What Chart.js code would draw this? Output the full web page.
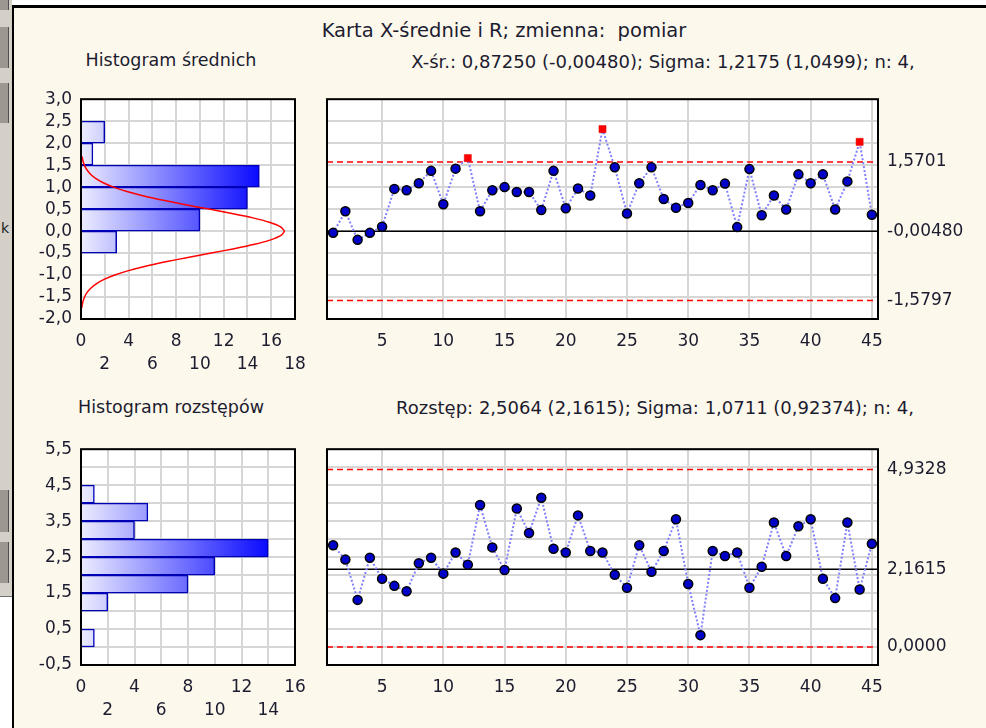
<!DOCTYPE html>
<html lang="pl">
<head>
<meta charset="utf-8">
<title>Karta X-średnie i R</title>
<script src="https://cdn.jsdelivr.net/npm/chart.js@4.4.1/dist/chart.umd.min.js"></script>
<style>
  html, body { margin: 0; padding: 0; width: 986px; height: 728px; overflow: hidden; background: #fff; font-family: "DejaVu Sans", sans-serif; }
  #side { position: absolute; left: 0; top: 0; width: 12px; height: 596px; background: #d4d0c8; border-bottom: 1px solid #707070; }
  .knob { position: absolute; left: 0; width: 8px; background: #9c9890; border-right: 1px solid #505050; }
  #panel { position: absolute; left: 12px; top: 5px; width: 990px; height: 740px; background: #fdf8ec; border-left: 2px solid #000; border-top: 3px solid #000; }
  .box { position: absolute; }
  .txt { position: absolute; white-space: nowrap; color: #1c1c30; transform: translateX(-50%); }
</style>
</head>
<body>
<div id="side">
  <div class="knob" style="top:0;height:10px"></div>
  <div class="knob" style="top:27px;height:41px"></div>
  <div class="knob" style="top:83px;height:40px"></div>
  <div class="knob" style="top:490px;height:42px"></div>
  <div class="knob" style="top:542px;height:41px"></div>
  <div style="position:absolute;left:1px;top:220px;font-size:14px;color:#222">k</div>
</div>
<div id="panel"></div>

<div class="txt" style="left:504px;top:19px;font-size:19.5px">Karta X-średnie i R; zmienna:&nbsp; pomiar</div>
<div class="txt" style="left:171px;top:50px;font-size:17.5px">Histogram średnich</div>
<div class="txt" style="left:663px;top:51px;font-size:18px">X-śr.: 0,87250 (-0,00480); Sigma: 1,2175 (1,0499); n: 4,</div>
<div class="txt" style="left:171px;top:397px;font-size:17.5px">Histogram rozstępów</div>
<div class="txt" style="left:655px;top:397px;font-size:18px">Rozstęp: 2,5064 (2,1615); Sigma: 1,0711 (0,92374); n: 4,</div>

<div class="box" style="left:0;top:80px;width:320px;height:300px"><canvas id="histMeans"></canvas></div>
<div class="box" style="left:300px;top:80px;width:686px;height:300px"><canvas id="chartMeans"></canvas></div>
<div class="box" style="left:0;top:430px;width:320px;height:298px"><canvas id="histRanges"></canvas></div>
<div class="box" style="left:300px;top:430px;width:686px;height:298px"><canvas id="chartRanges"></canvas></div>

<script>
// numer próbki 1..45
const samples = [1,2,3,4,5,6,7,8,9,10,11,12,13,14,15,16,17,18,19,20,21,22,23,24,25,26,27,28,29,30,31,32,33,34,35,36,37,38,39,40,41,42,43,44,45];

// średnie z próbek
const means = [-0.04, 0.45, -0.20, -0.04, 0.10, 0.96, 0.93, 1.09, 1.37, 0.61,
               1.42, 1.66, 0.45, 0.93, 1.00, 0.89, 0.89, 0.48, 1.37, 0.52,
               0.97, 0.81, 2.32, 1.45, 0.40, 1.09, 1.45, 0.73, 0.53, 0.64,
               1.05, 0.93, 1.08, 0.09, 1.41, 0.36, 0.81, 0.49, 1.29, 1.09,
               1.29, 0.49, 1.13, 2.03, 0.37];

// rozstępy z próbek
const ranges = [2.83, 2.43, 1.31, 2.48, 1.90, 1.70, 1.55, 2.33, 2.48, 2.04,
                2.63, 2.29, 3.95, 2.77, 2.14, 3.85, 3.17, 4.15, 2.73, 2.63,
                3.66, 2.67, 2.63, 2.01, 1.65, 2.83, 2.09, 2.67, 3.55, 1.75,
                0.33, 2.67, 2.53, 2.63, 1.65, 2.23, 3.46, 2.53, 3.36, 3.55,
                1.90, 1.36, 3.46, 1.60, 2.87];

// linie kontrolne: UCL, linia centralna, LCL
const meanLimits = [1.5701, -0.00480, -1.5797];
const meanLimitLabels = ['1,5701', '-0,00480', '-1,5797'];
const rangeLimits = [4.9328, 2.1615, 0.0];
const rangeLimitLabels = ['4,9328', '2,1615', '0,0000'];

// histogramy (środki klas, liczności)
const meanBins = [-0.25, 0.25, 0.75, 1.25, 1.75, 2.25];
const meanCounts = [3, 10, 14, 15, 1, 2];
const rangeBins = [0.25, 1.25, 1.75, 2.25, 2.75, 3.25, 3.75, 4.25];
const rangeCounts = [1, 2, 8, 10, 14, 4, 5, 1];

// krzywa normalna na histogramie średnich
const curveLevels = [-1.75, -1.7, -1.6, -1.5, -1.4, -1.3, -1.2, -1.1, -1.0, -0.9, -0.8, -0.7,
                     -0.6, -0.5, -0.4, -0.3, -0.2, -0.1, 0, 0.1, 0.2, 0.3, 0.4, 0.5,
                     0.6, 0.7, 0.8, 0.9, 1.0, 1.1, 1.2, 1.3, 1.4, 1.5, 1.6, 1.7];
const curveCounts = [0.07, 0.09, 0.17, 0.30, 0.50, 0.82, 1.28, 1.94, 2.84, 4.00, 5.43, 7.12,
                     8.99, 10.96, 12.88, 14.60, 15.96, 16.82, 17.1, 16.76, 15.85, 14.46, 12.70, 10.77,
                     8.80, 6.94, 5.28, 3.87, 2.74, 1.87, 1.23, 0.78, 0.48, 0.28, 0.16, 0.09];

// etykiety osi X kart
const sampleTicks = [5, 10, 15, 20, 25, 30, 35, 40, 45];

Chart.defaults.font.family = '"DejaVu Sans", sans-serif';
Chart.defaults.font.size = 17;
Chart.defaults.color = '#1c1c30';
Chart.defaults.animation = false;

const GRID = '#d6d6d6';
const comma = (v, d) => v.toFixed(d).replace('.', ',');

// białe tło pola wykresu + czarna ramka
const frame = {
  id: 'frame',
  beforeDraw(chart) {
    const a = chart.chartArea, ctx = chart.ctx;
    ctx.save();
    ctx.fillStyle = '#fff';
    ctx.fillRect(a.left, a.top, a.width, a.height);
    ctx.restore();
  },
  afterDatasetsDraw(chart) {
    const a = chart.chartArea, ctx = chart.ctx;
    ctx.save();
    ctx.strokeStyle = '#000';
    ctx.lineWidth = 2;
    ctx.strokeRect(a.left, a.top, a.width, a.height);
    ctx.restore();
  }
};

function barFill(c) {
  const chart = c.chart;
  if (!chart.chartArea) return '#8080ff';
  const xs = chart.scales.x;
  const max = Math.max(...c.dataset.data.map(d => d.x));
  const g = chart.ctx.createLinearGradient(xs.getPixelForValue(0), 0, xs.getPixelForValue(max), 0);
  g.addColorStop(0, '#ececff');
  g.addColorStop(1, '#0a0aff');
  return g;
}

function makeHistogram(id, bins, counts, yMin, yMax, xMax, labelFrom, labelStep, padTop, axisH, curve) {
  const datasets = [];
  if (curve) {
    datasets.push({
      type: 'line',
      indexAxis: 'y',
      data: curve.levels.map((l, i) => ({ x: curve.counts[i], y: l })),
      borderColor: '#ff0000',
      borderWidth: 1.5,
      pointRadius: 0,
      tension: 0.2,
      order: 0
    });
  }
  datasets.push({
    type: 'bar',
    indexAxis: 'y',
    data: bins.map((b, i) => ({ x: counts[i], y: b })),
    backgroundColor: barFill,
    borderColor: '#0000b4',
    borderWidth: 1.5,
    borderSkipped: 'start',
    barPercentage: 1,
    categoryPercentage: 1,
    order: 1
  });

  new Chart(document.getElementById(id), {
    type: 'bar',
    data: { datasets },
    options: {
      indexAxis: 'y',
      responsive: true,
      maintainAspectRatio: false,
      layout: { padding: { top: padTop, right: 25 } },
      plugins: { legend: { display: false }, tooltip: { enabled: false } },
      scales: {
        x: {
          type: 'linear', min: 0, max: xMax, offset: false,
          grid: { color: GRID, lineWidth: 2, drawTicks: false, offset: false },
          border: { display: false },
          ticks: {
            stepSize: 2, padding: 11, autoSkip: false, maxRotation: 0,
            font: { lineHeight: 1.35 },
            callback: v => v % 4 === 0 ? String(v) : ['', String(v)]
          },
          afterFit: s => { s.height = axisH; }
        },
        y: {
          type: 'linear', min: yMin, max: yMax, offset: false,
          grid: { color: GRID, lineWidth: 2, drawTicks: false, offset: false },
          border: { display: false },
          ticks: {
            stepSize: 0.5, padding: 9, autoSkip: false,
            callback: v => {
              const k = (v - labelFrom) / labelStep;
              return Math.abs(k - Math.round(k)) < 1e-9 ? comma(v, 1) : '';
            }
          },
          afterFit: s => { s.width = 81; }
        }
      }
    },
    plugins: [frame]
  });
}

function makeControl(id, values, limits, limitLabels, yMin, yMax, padTop, axisH) {
  const ucl = limits[0], lcl = limits[2];
  const out = c => c.raw && (c.raw.y > ucl || c.raw.y < lcl);
  const hline = (y, color, dash) => ({
    data: [{ x: 0.5, y: y }, { x: 45.5, y: y }],
    borderColor: color, borderWidth: 1.5, borderDash: dash, pointRadius: 0
  });

  new Chart(document.getElementById(id), {
    type: 'line',
    data: {
      datasets: [
        {
          data: values.map((v, i) => ({ x: samples[i], y: v })),
          borderColor: '#8080ff',
          borderWidth: 2,
          borderDash: [2, 2],
          pointStyle: c => out(c) ? 'rect' : 'circle',
          pointRadius: c => out(c) ? 5 : 4.5,
          pointBackgroundColor: c => out(c) ? '#ff0000' : '#0000c8',
          pointBorderColor: c => out(c) ? '#e00000' : '#000000',
          pointBorderWidth: c => out(c) ? 0.5 : 1.5
        },
        hline(limits[0], '#ff0000', [6, 4]),
        hline(limits[1], '#000000', []),
        hline(limits[2], '#ff0000', [6, 4])
      ]
    },
    options: {
      responsive: true,
      maintainAspectRatio: false,
      layout: { padding: { top: padTop } },
      plugins: { legend: { display: false }, tooltip: { enabled: false } },
      scales: {
        x: {
          type: 'linear', min: 0.5, max: 45.5,
          afterBuildTicks: s => { s.ticks = sampleTicks.map(v => ({ value: v })); },
          grid: { color: GRID, lineWidth: 2, drawTicks: false },
          border: { display: false },
          ticks: { padding: 11, autoSkip: false, maxRotation: 0, font: { lineHeight: 1.35 } },
          afterFit: s => { s.height = axisH; }
        },
        y: {
          type: 'linear', min: yMin, max: yMax,
          grid: { color: GRID, lineWidth: 2, drawTicks: false },
          border: { display: false },
          ticks: { display: false, stepSize: 0.5 },
          afterFit: s => { s.width = 27; }
        },
        yr: {
          type: 'linear', position: 'right', min: yMin, max: yMax,
          afterBuildTicks: s => { s.ticks = limits.map(v => ({ value: v })); },
          grid: { drawOnChartArea: false, drawTicks: false },
          border: { display: false },
          ticks: { padding: 9, autoSkip: false, callback: (v, i) => limitLabels[i] },
          afterFit: s => { s.width = 108; }
        }
      }
    },
    plugins: [frame]
  });
}

makeHistogram('histMeans', meanBins, meanCounts, -2, 3, 18, -2, 0.5, 17, 61,
  { levels: curveLevels, counts: curveCounts });
makeControl('chartMeans', means, meanLimits, meanLimitLabels, -2, 3, 17, 61);
makeHistogram('histRanges', rangeBins, rangeCounts, -0.5, 5.5, 16, -0.5, 1, 14, 63, null);
makeControl('chartRanges', ranges, rangeLimits, rangeLimitLabels, -0.5, 5.5, 14, 63);
</script>
</body>
</html>
